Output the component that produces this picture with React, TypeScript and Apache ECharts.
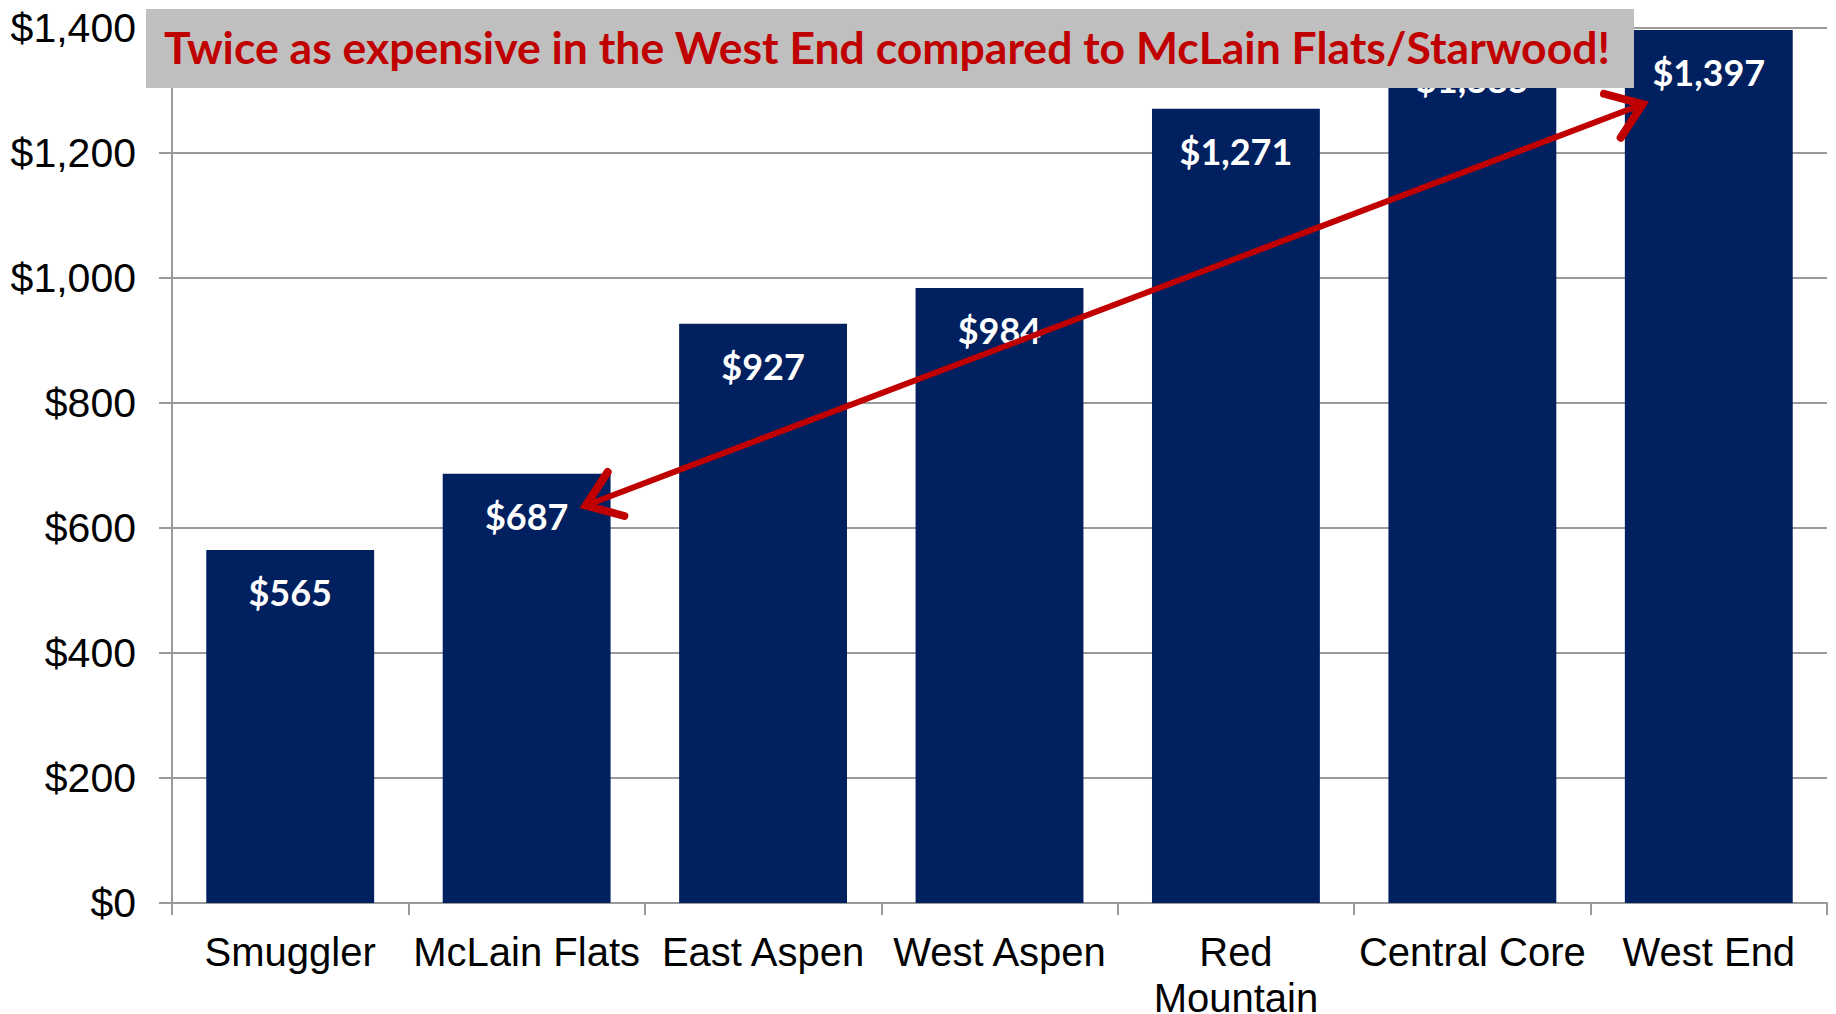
import React, { useEffect, useRef } from "react";
import * as echarts from "echarts";

const categories = ["Smuggler", "McLain Flats", "East Aspen", "West Aspen", "Red Mountain", "Central Core", "West End"];
const prices = [565, 687, 927, 984, 1271, 1385, 1397];
const yMin = 0;
const yMax = 1400;
const yInterval = 200;
const bannerText = "Twice as expensive in the West End compared to McLain Flats/Starwood!";
// arrow end points in data space: [category position, value]
const arrowStart = [1.25, 636];
const arrowEnd = [5.72, 1278];

const RED = "#C00000";
const NAVY = "#002060";
const GRID_GRAY = "#9A9A9A";
const AXIS_FONT = "Liberation Sans, Arial, sans-serif";

function fmtDollar(v: number) {
  return "$" + Math.round(v).toLocaleString("en-US");
}

export default function App() {
  const ref = useRef<HTMLDivElement>(null);
  useEffect(() => {
    if (!ref.current) return;
    const chart = echarts.init(ref.current, null, { renderer: "svg" });
    const measureCtx = document.createElement("canvas").getContext("2d");
    const wrapLabel = (v: string) => {
      if (!measureCtx) return v;
      measureCtx.font = "40px 'Liberation Sans', Arial, sans-serif";
      const maxW = 236;
      if (measureCtx.measureText(v).width <= maxW) return v;
      const words = v.split(" ");
      const lines: string[] = [];
      let cur = "";
      for (const w of words) {
        const t = cur ? cur + " " + w : w;
        if (cur && measureCtx.measureText(t).width > maxW) {
          lines.push(cur);
          cur = w;
        } else cur = t;
      }
      if (cur) lines.push(cur);
      return lines.join("\n");
    };
    chart.setOption({
      animation: false,
      backgroundColor: "#ffffff",
      grid: { left: 172, right: 9, top: 28, bottom: 111, containLabel: false, outerBoundsMode: "none" },
      xAxis: [
        {
          type: "category",
          data: categories,
          axisLine: { show: true, onZero: false, lineStyle: { color: GRID_GRAY, width: 2 } },
          axisTick: { show: true, length: 12, lineStyle: { color: GRID_GRAY, width: 2 } },
          splitLine: { show: false },
          axisLabel: {
            interval: 0,
            color: "#000",
            fontFamily: AXIS_FONT,
            fontSize: 40,
            lineHeight: 46,
            margin: 26,
            formatter: (v: string) => wrapLabel(v),
          },
        },
        {
          type: "value",
          min: -0.5,
          max: 6.5,
          show: false,
          splitLine: { show: false },
          axisLine: { show: false, onZero: false },
          axisTick: { show: false },
          axisLabel: { show: false },
        },
      ],
      yAxis: {
        type: "value",
        min: yMin,
        max: yMax,
        interval: yInterval,
        axisLine: { show: true, onZero: false, lineStyle: { color: GRID_GRAY, width: 2 } },
        axisTick: { show: true, length: 13, lineStyle: { color: GRID_GRAY, width: 2 } },
        splitLine: { show: true, lineStyle: { color: GRID_GRAY, width: 2 } },
        axisLabel: {
          color: "#000",
          fontFamily: AXIS_FONT,
          fontSize: 41,
          margin: 36,
          formatter: (v: number) => fmtDollar(v),
        },
      },
      series: [
        {
          type: "bar",
          data: prices,
          barCategoryGap: "29%",
          itemStyle: { color: NAVY },
          label: {
            show: true,
            position: "insideTop",
            distance: 24,
            color: "#fff",
            fontFamily: "Lato, Open Sans, sans-serif",
            fontWeight: "bold",
            fontSize: 36,
            formatter: (p: any) => fmtDollar(p.value),
          },
        },
      ],
    });

    const p1 = chart.convertToPixel({ xAxisIndex: 1, yAxisIndex: 0 }, arrowStart) as number[];
    const p2 = chart.convertToPixel({ xAxisIndex: 1, yAxisIndex: 0 }, arrowEnd) as number[];
    const ang = Math.atan2(p2[1] - p1[1], p2[0] - p1[0]);
    const headLen = 40;
    const half = (36 * Math.PI) / 180;
    const head = (tip: number[], dir: number) => {
      const a1 = dir + Math.PI - half;
      const a2 = dir + Math.PI + half;
      return [
        [tip[0] + headLen * Math.cos(a1), tip[1] + headLen * Math.sin(a1)],
        tip,
        [tip[0] + headLen * Math.cos(a2), tip[1] + headLen * Math.sin(a2)],
      ];
    };
    const arrowStyle = { stroke: RED, lineWidth: 8, fill: null, lineCap: "round", lineJoin: "miter" };

    chart.setOption({
      graphic: [
        {
          type: "line",
          z: 50,
          shape: { x1: p1[0], y1: p1[1], x2: p2[0], y2: p2[1] },
          style: { stroke: RED, lineWidth: 6, lineCap: "butt" },
        },
        { type: "polyline", z: 50, shape: { points: head(p2, ang) }, style: arrowStyle },
        { type: "polyline", z: 50, shape: { points: head(p1, ang + Math.PI) }, style: arrowStyle },
        {
          type: "rect",
          z: 100,
          shape: { x: 146, y: 9, width: 1488, height: 79 },
          style: { fill: "#BFBFBF" },
        },
        {
          type: "text",
          z: 101,
          x: 887,
          y: 46,
          style: {
            text: bannerText,
            fill: RED,
            fontFamily: "Lato, Open Sans, sans-serif",
            fontWeight: "bold",
            fontSize: 44.5,
            align: "center",
            verticalAlign: "middle",
          },
        },
      ],
    });

    return () => chart.dispose();
  }, []);
  return (
    <div
      ref={ref}
      style={{ position: "fixed", left: 0, top: 0, width: 1836, height: 1014, background: "#fff" }}
    />
  );
}
